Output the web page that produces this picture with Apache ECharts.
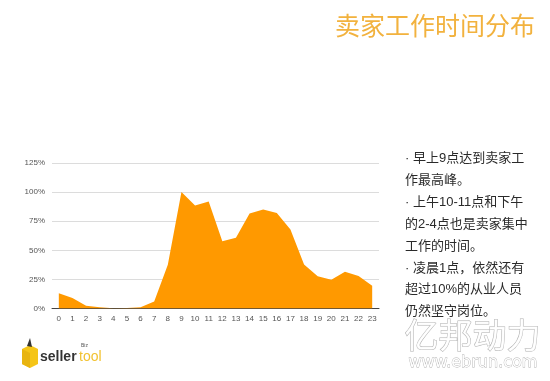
<!DOCTYPE html>
<html>
<head>
<meta charset="utf-8">
<script src="https://cdn.jsdelivr.net/npm/echarts@6/dist/echarts.min.js"></script>
<style>
html,body{margin:0;padding:0;background:#fff;}
#c{width:550px;height:381px;}
</style>
</head>
<body>
<div id="c"></div>
<script>
var hours = ['0','1','2','3','4','5','6','7','8','9','10','11','12','13','14','15','16','17','18','19','20','21','22','23'];
var share = [0.13,0.09,0.023,0.01,0.003,0.005,0.01,0.06,0.376,1.00,0.885,0.92,0.578,0.607,0.816,0.85,0.82,0.678,0.377,0.276,0.247,0.316,0.28,0.195];
var yTicks = [0,0.25,0.5,0.75,1,1.25];
var titleText = '卖家工作时间分布';
var noteLines = ['· 早上9点达到卖家工','作最高峰。','· 上午10-11点和下午','的2-4点也是卖家集中','工作的时间。','· 凌晨1点，依然还有','超过10%的从业人员','仍然坚守岗位。'];

var chart = echarts.init(document.getElementById('c'));
var graphics = [
  {type:'text', left:335, top:13, style:{text:titleText, font:'25px "Noto Sans CJK SC"', fill:'#F2B23E'}},
  // logo
  {type:'polygon', shape:{points:[[22,349],[30,345],[38,349],[38,364],[30,368],[22,364]]}, style:{fill:'#F5C518'}},
  {type:'polygon', shape:{points:[[22,349],[30,353],[30,368],[22,364]]}, style:{fill:'#E8B410'}},
  {type:'polygon', shape:{points:[[27,346],[30,338],[32,347]]}, style:{fill:'#333'}},
  {type:'text', left:40, top:350, style:{text:'seller', font:'bold 14px "Liberation Sans"', fill:'#333'}},
  {type:'text', left:79, top:350, style:{text:'tool', font:'14px "Liberation Sans"', fill:'#F2C230'}},
  {type:'text', left:81, top:343, style:{text:'Biz', font:'5px "Liberation Sans"', fill:'#555'}},
  // watermark
  {type:'text', left:404, top:318, style:{text:'亿邦动力', font:'34px "Noto Sans CJK SC"', fill:'rgba(255,255,255,0.9)', stroke:'#b0b0b0', lineWidth:1}},
  {type:'text', left:408, top:354, style:{text:'www.ebrun.com', font:'16px "DejaVu Sans"', fill:'#fff', stroke:'#b0b0b0', lineWidth:0.8}}
];
noteLines.forEach(function(t, i){
  graphics.push({type:'text', left:405, top:152 + i*21.9,
    style:{text:t, font:'13px "Liberation Sans","Noto Sans CJK SC"', fill:'#2a2a2a'}});
});

chart.setOption({
  animation:false,
  backgroundColor:'#fff',
  grid:{left:52, right:171, top:163, bottom:72.5, containLabel:false},
  xAxis:{
    type:'category', data:hours, boundaryGap:true,
    axisLine:{lineStyle:{color:'#444', width:1}},
    axisTick:{show:false},
    axisLabel:{fontSize:8, color:'#555', margin:6, interval:0, fontFamily:'Liberation Sans'}
  },
  yAxis:{
    type:'value', min:0, max:1.25, interval:0.25,
    axisLine:{show:false}, axisTick:{show:false},
    splitLine:{lineStyle:{color:'#dcdcdc'}},
    axisLabel:{fontSize:8, color:'#555', margin:7, fontFamily:'Liberation Sans',
      formatter:function(v){return Math.round(v*100)+'%';}}
  },
  series:[{
    type:'line', data:share, symbol:'none', smooth:false,
    lineStyle:{width:0, color:'#FF9900'},
    areaStyle:{color:'#FF9900', opacity:1},
    z:1
  }],
  graphic:graphics
});
</script>
</body>
</html>
